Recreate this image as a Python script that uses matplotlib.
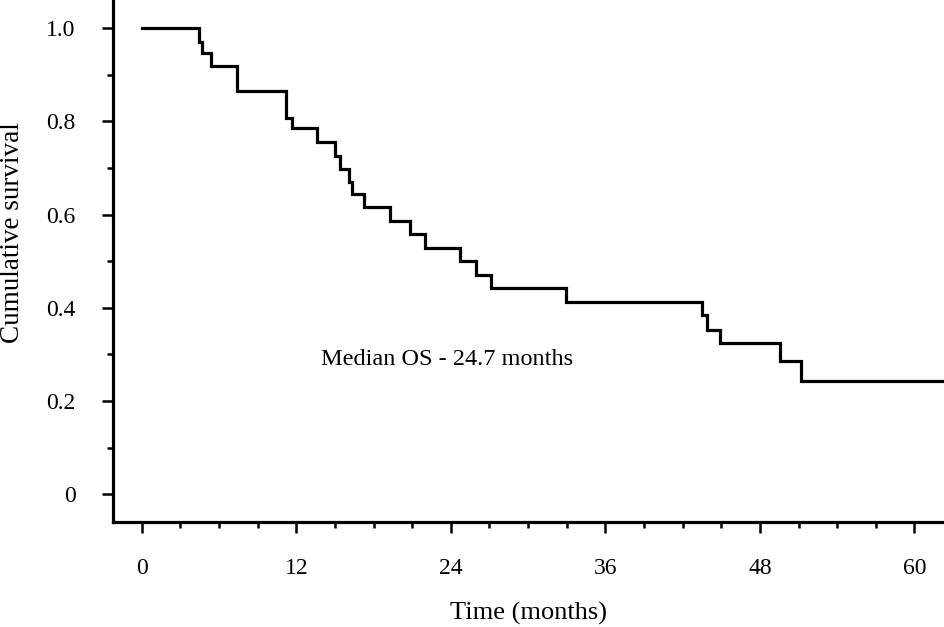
import numpy as np
import matplotlib
matplotlib.use("Agg")
import matplotlib.pyplot as plt
from matplotlib.ticker import MultipleLocator

plt.rcParams['font.family'] = ['Liberation Serif', 'DejaVu Serif']

# event times (months) and survival after each step
times = [0, 4.45, 4.66, 5.36, 7.38, 11.18, 11.65, 13.61, 15.0, 15.4, 16.1, 16.3,
         17.26, 19.28, 20.83, 21.96, 24.7, 25.98, 27.12, 32.92, 43.48, 43.91,
         44.9, 49.56, 51.16]
surv = [1.0, 0.971, 0.948, 0.918, 0.865, 0.807, 0.785, 0.755, 0.726, 0.698, 0.671,
        0.644, 0.616, 0.587, 0.558, 0.529, 0.500, 0.471, 0.442, 0.412, 0.385,
        0.353, 0.325, 0.285, 0.243]
end_time = 62.3

xticks = [0, 12, 24, 36, 48, 60]
yticks = [0, 0.2, 0.4, 0.6, 0.8, 1.0]
ytick_labels = ['0', '0.2', '0.4', '0.6', '0.8', '1.0']

fig = plt.figure(figsize=(9.45, 6.27), dpi=100)
ax = fig.add_axes([113 / 945, 105.3 / 627, 832 / 945, 521.7 / 627])

t = times + [end_time]
s = surv + [surv[-1]]
ax.step(t, s, where='post', color='k', linewidth=2.3, solid_joinstyle='miter')

ax.set_xlim(-2.23, 62.37)
ax.set_ylim(-0.0588, 1.0607)

ax.set_xticks(xticks)
ax.set_yticks(yticks)
ax.set_yticklabels(ytick_labels)
ax.xaxis.set_minor_locator(MultipleLocator(3))
ax.yaxis.set_minor_locator(MultipleLocator(0.1))

for side in ['top', 'right']:
    ax.spines[side].set_visible(False)
for side in ['left', 'bottom']:
    ax.spines[side].set_linewidth(2.3)

ax.tick_params(axis='both', which='major', direction='out', length=8, width=1.8,
               labelsize=17, color='k')
ax.tick_params(axis='both', which='minor', direction='out', length=4, width=1.8, color='k')
ax.tick_params(axis='y', which='major', pad=19)
ax.tick_params(axis='x', which='major', pad=18)

ax.text(13.9, 0.2775, 'Median OS - 24.7 months', fontsize=17.5, ha='left', va='baseline')

fig.text(529 / 945, 1 - 613 / 627, 'Time (months)', fontsize=19, ha='center', va='center')
fig.text(13 / 945, 1 - 233 / 627, 'Cumulative survival', fontsize=19.5, ha='center',
         va='center', rotation=90)

plt.savefig('out.png', dpi=100)
